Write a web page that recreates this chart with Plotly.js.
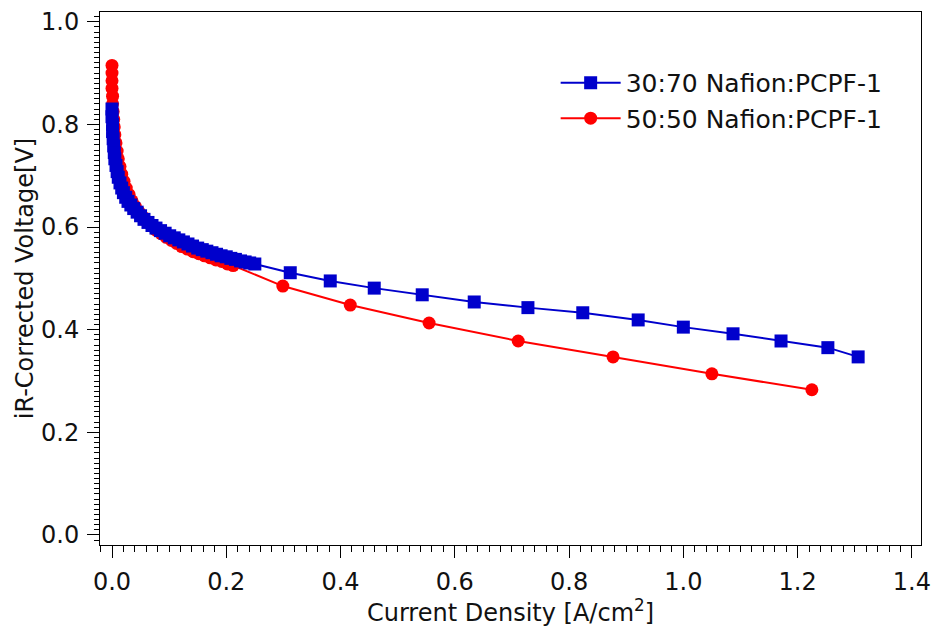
<!DOCTYPE html>
<html>
<head>
<meta charset="utf-8">
<script src="https://cdn.plot.ly/plotly-3.0.1.min.js"></script>
<style>html,body{margin:0;padding:0;background:#fff;}#chart{width:940px;height:627px;}</style>
</head>
<body>
<div id="chart"></div>
<script>
// 30:70 Nafion:PCPF-1 (blue squares)
const blueName = "30:70 Nafion:PCPF-1";
const blueX = [0.000,0.000,0.001,0.001,0.002,0.003,0.004,0.005,0.007,0.009,0.011,0.014,0.017,0.020,0.024,0.028,0.033,0.038,0.044,0.050,0.056,0.063,0.070,0.077,0.085,0.093,0.101,0.109,0.117,0.125,0.133,0.141,0.150,0.158,0.166,0.175,0.183,0.191,0.200,0.208,0.216,0.225,0.233,0.241,0.250,
  0.312,0.382,0.459,0.543,0.634,0.728,0.824,0.921,1.000,1.087,1.171,1.253,1.306];
const blueY = [0.830,0.815,0.800,0.786,0.772,0.758,0.745,0.733,0.720,0.708,0.697,0.686,0.676,0.667,0.658,0.650,0.643,0.636,0.629,0.622,0.615,0.609,0.603,0.598,0.593,0.588,0.583,0.579,0.575,0.571,0.567,0.563,0.559,0.556,0.553,0.550,0.547,0.544,0.542,0.539,0.537,0.534,0.532,0.530,0.528,
  0.511,0.495,0.481,0.468,0.454,0.443,0.433,0.419,0.405,0.392,0.378,0.365,0.347];

// 50:50 Nafion:PCPF-1 (red circles)
const redName = "50:50 Nafion:PCPF-1";
const redX = [0.000,0.000,0.000,0.000,0.001,0.001,0.002,0.003,0.004,0.005,0.007,0.009,0.011,0.014,0.017,0.021,0.025,0.030,0.035,0.041,0.047,0.054,0.061,0.069,0.077,0.086,0.095,0.104,0.113,0.122,0.132,0.142,0.152,0.162,0.172,0.182,0.192,0.202,0.212,
  0.299,0.417,0.555,0.711,0.877,1.050,1.225];
const redY = [0.915,0.900,0.885,0.870,0.855,0.840,0.825,0.810,0.795,0.780,0.764,0.748,0.733,0.718,0.703,0.689,0.676,0.663,0.651,0.640,0.630,0.620,0.611,0.602,0.594,0.587,0.580,0.574,0.568,0.562,0.557,0.552,0.548,0.544,0.540,0.536,0.533,0.528,0.525,
  0.485,0.448,0.413,0.378,0.347,0.314,0.283];

const xTitle = "Current Density [A/cm<sup>2</sup>]";
const yTitle = "iR-Corrected Voltage[V]";

const font = "DejaVu Sans, Liberation Sans, sans-serif";

const traces = [
  {x: redX, y: redY, name: redName, type: "scatter", mode: "lines+markers",
   line: {color: "#FF0000", width: 2}, marker: {symbol: "circle", size: 13, color: "#FF0000"}},
  {x: blueX, y: blueY, name: blueName, type: "scatter", mode: "lines+markers",
   line: {color: "#0000CC", width: 2}, marker: {symbol: "square", size: 13, color: "#0000CC"}}
];

const axisCommon = {
  showgrid: false, zeroline: false, showline: true, linecolor: "#000", linewidth: 1,
  mirror: true, ticks: "outside", ticklen: 12, tickwidth: 1, tickcolor: "#000",
  ticklabelstandoff: 3,
  tickfont: {family: font, size: 24, color: "#111"}
};

const layout = {
  width: 940, height: 627,
  margin: {l: 100, r: 19, t: 12, b: 82},
  paper_bgcolor: "#fff", plot_bgcolor: "#fff",
  showlegend: true,
  legend: {x: 0.555, y: 0.91, xanchor: "left", yanchor: "top", traceorder: "reversed",
           itemwidth: 60,
           font: {family: font, size: 25, color: "#111"}, bgcolor: "rgba(0,0,0,0)", tracegroupgap: 0},
  xaxis: Object.assign({}, axisCommon, {
    range: [-0.021, 1.416], tickmode: "linear", tick0: 0, dtick: 0.2, tickformat: ".1f",
    minor: {tickmode: "linear", tick0: 0, dtick: 0.02, ticks: "outside", ticklen: 6, tickwidth: 1, tickcolor: "#000"},
    title: {text: xTitle, font: {family: font, size: 24, color: "#111"}, standoff: 4}
  }),
  yaxis: Object.assign({}, axisCommon, {
    range: [-0.0195, 1.019], tickmode: "linear", tick0: 0, dtick: 0.2, tickformat: ".1f",
    minor: {tickmode: "linear", tick0: 0, dtick: 0.01, ticks: "outside", ticklen: 5, tickwidth: 1, tickcolor: "#000"},
    title: {text: yTitle, font: {family: font, size: 24, color: "#111"}, standoff: 0}
  })
};

Plotly.newPlot("chart", traces, layout, {displayModeBar: false, staticPlot: true});
</script>
</body>
</html>
